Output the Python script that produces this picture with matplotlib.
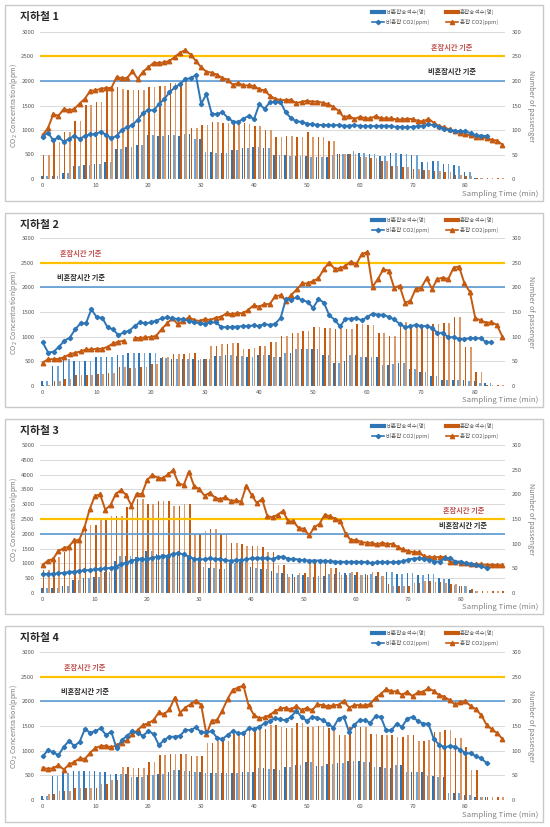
import matplotlib
matplotlib.use('Agg')
import matplotlib.pyplot as plt
import numpy as np
from matplotlib.patches import Rectangle
from matplotlib.lines import Line2D

plt.rcParams['font.family'] = ['Noto Sans CJK KR', 'DejaVu Sans']

# ---------------- DATA ----------------
titles = ['지하철 1', '지하철 2', '지하철 3', '지하철 4']
legend_labels = ['비혼잡승객수(명)', '혼잡승객수(명)', '비혼잡 CO2(ppm)', '혼잡 CO2(ppm)']
ref_labels = ['혼잡시간 기준', '비혼잡시간 기준']
ref_values = [2500, 2000]
left_ymax = [3000, 3000, 5000, 3000]
right_ticks = [0, 50, 100, 150, 200, 250, 300]
x_ticks = [0, 10, 20, 30, 40, 50, 60, 70, 80]
n_times = [88, 86, 89, 88]
nan = np.nan

# Subway 1
s1_busy_co2 = [900, 1036, 1320, 1290, 1430, 1400, 1430, 1540, 1640, 1800,
               1810, 1840, 1860, 1855, 2080, 2060, 2060, 2200, 2040, 2190,
               2280, 2370, 2370, 2380, 2410, 2490, 2580, 2630, 2540, 2410,
               2280, 2190, 2170, 2130, 2060, 2030, 1920, 1960, 1910, 1910,
               1900, 1830, 1810, 1700, 1640, 1610, 1610, 1616, 1548, 1575,
               1596, 1580, 1580, 1555, 1528, 1473, 1392, 1256, 1290, 1222,
               1270, 1243, 1236, 1283, 1243, 1236, 1236, 1215, 1215, 1229,
               1222, 1188, 1175, 1229, 1150, 1080, 1052, 1012, 970, 944,
               916, 890, 862, 849, 835, 800, 785, 700]
s1_quiet_co2 = [866, 948, 790, 852, 763, 818, 880, 818, 880, 913,
                913, 968, 900, 832, 880, 1002, 1057, 1104, 1207, 1343,
                1411, 1398, 1527, 1630, 1766, 1868, 1936, 2039, 2059, 2120,
                1534, 1732, 1330, 1323, 1364, 1254, 1173, 1166, 1227, 1289,
                1220, 1527, 1432, 1568, 1575, 1575, 1358, 1243, 1175, 1168,
                1127, 1115, 1108, 1100, 1100, 1100, 1100, 1086, 1086, 1100,
                1086, 1080, 1080, 1080, 1086, 1086, 1080, 1059, 1066, 1052,
                1066, 1080, 1080, 1113, 1100, 1059, 1018, 998, 985, 971,
                978, 930, 890, 883, 876]
s1_quiet_pax = [6, 6, 7, 7, 12, 12, 27, 27, 29, 29,
                31, 31, 35, 35, 62, 62, 66, 66, 70, 70,
                90, 90, 88, 88, 89, 89, 87, 91, 91, 81,
                81, 56, 56, 54, 54, 54, 59, 59, 64, 64,
                65, 65, 64, 64, 50, 49, 49, 46, 46, 46,
                46, 44, 44, 44, 44, 49, 51, 51, 52, 58,
                54, 54, 52, 52, 46, 46, 53, 53, 51, 51,
                49, 49, 35, 35, 37, 37, 31, 31, 28, 27,
                14, 14, 3, 3, 0, 0, 0, 0]
s1_busy_pax = [48, 48, 80, 76, 95, 95, 119, 119, 151, 151,
               157, 157, 183, 183, 187, 183, 182, 182, 181, 181,
               188, 188, 190, 190, 196, 196, 198, 198, 104, 104,
               110, 110, 116, 116, 115, 115, 115, 115, 115, 113,
               109, 109, 99, 99, 86, 86, 88, 88, 86, 86,
               96, 85, 85, 85, 78, 78, 51, 51, 52, 52,
               44, 44, 42, 42, 37, 37, 27, 27, 24, 24,
               20, 20, 18, 18, 17, 17, 14, 14, 9, 9,
               7, 7, 3, 3, 3, 3, 3, 3]

# Subway 2
s2_busy_co2 = [475, 543, 543, 550, 584, 645, 672, 700, 740, 740,
               754, 754, 794, 862, 896, 917, nan, 964, 978, 985,
               991, 1018, 1154, 1270, 1372, 1250, 1317, 1392, 1338, 1317,
               1358, 1338, 1385, 1405, 1473, 1453, 1480, 1473, 1541, 1636,
               1609, 1657, 1663, 1820, 1840, 1725, 1848, 1957, 2080, 2080,
               2128, 2182, 2373, 2503, 2373, 2387, 2435, 2523, 2469, 2673,
               2714, 2012, 2169, 2366, 2339, 1991, 2032, 1691, 1725, 1971,
               1991, 2182, 1971, 2169, 2196, 2169, 2400, 2421, 2080, 1909,
               1377, 1330, 1282, 1290, 1241, 1003]
s2_quiet_co2 = [883, 679, 693, 794, 917, 978, 1148, 1270, 1270, 1555,
                1392, 1385, 1188, 1148, 1032, 1086, 1120, 1215, 1290, 1270,
                1290, 1324, 1372, 1392, 1372, 1358, 1351, 1317, 1303, 1270,
                1256, 1290, 1290, 1202, 1188, 1202, 1202, 1215, 1215, 1229,
                1215, 1256, 1236, 1262, 1378, 1773, 1753, 1794, 1739, 1705,
                1582, 1760, 1691, 1432, 1343, 1207, 1364, 1364, 1378, 1330,
                1398, 1466, 1446, 1446, 1398, 1350, 1262, 1194, 1207, 1241,
                1214, 1214, 1180, 1078, 1078, 989, 989, 955, 955, 968,
                968, 968, 887, 887]
s2_quiet_pax = [10, 10, 40, 40, 54, 54, 51, 51, 50, 50,
                59, 59, 59, 59, 62, 62, 66, 66, 66, 67,
                67, 67, 57, 57, 54, 54, 54, 54, 54, 52,
                54, 54, 60, 60, 62, 62, 61, 61, 59, 59,
                62, 62, 63, 59, 59, 67, 67, 75, 75, 76,
                76, 76, 63, 63, 46, 46, 51, 63, 63, 59,
                59, 58, 58, 43, 43, 44, 46, 46, 34, 34,
                29, 29, 20, 20, 12, 12, 12, 12, 12, 10,
                10, 7, 7, 7, 0, 0]
s2_busy_pax = [3, 3, 10, 10, 15, 15, 22, 22, 22, 22,
               25, 25, 26, 26, 39, 39, 37, 37, 39, 39,
               44, 44, 59, 59, 64, 64, 64, 66, 66, 54,
               54, 81, 81, 85, 85, 88, 88, 75, 75, 77,
               81, 81, 89, 89, 102, 102, 107, 107, 111, 111,
               119, 119, 118, 118, 116, 116, 116, 116, 125, 125,
               123, 123, 108, 108, 102, 102, 129, 129, 121, 121,
               123, 123, 125, 125, 128, 128, 140, 140, 80, 80,
               29, 29, 3, 3, 3, 3]

# Subway 3
s3_busy_co2 = [946, 1092, 1149, 1419, 1509, 1565, 1779, 1790, 2207, 2826,
               3277, 3333, 2815, 2973, 3344, 3479, 3310, 2950, 3355, 3344,
               3817, 3986, 3896, 3873, 4009, 4144, 3704, 3648, 4099, 3614,
               3502, 3288, 3389, 3220, 3164, 3243, 3108, 3130, 3085, 3626,
               3310, 3040, 3175, 2601, 2556, 2647, 2771, 2420, 2420, 2194,
               2172, 1945, 2217, 2341, 2647, 2590, 2511, 2420, 2002, 1776,
               1798, 1719, 1697, 1697, 1640, 1697, 1651, 1663, 1550, 1470,
               1414, 1380, 1380, 1244, 1210, 1210, 1215, 1220, 1041, 1041,
               1007, 1007, 984, 975, 965, 950, 950, 945, 939]
s3_quiet_co2 = [642, 642, 653, 664, 676, 709, 721, 743, 766, 777,
                800, 811, 833, 845, 890, 980, 1025, 1092, 1137, 1137,
                1149, 1194, 1227, 1239, 1261, 1329, 1340, 1306, 1227, 1149,
                1137, 1137, 1171, 1149, 1149, 1103, 1092, 1103, 1115, 1137,
                1171, 1171, 1171, 1171, 1149, 1210, 1233, 1154, 1154, 1131,
                1108, 1097, 1097, 1097, 1086, 1075, 1063, 1052, 1052, 1052,
                1052, 1052, 1041, 1007, 1041, 1041, 1041, 1041, 1052, 1075,
                1131, 1165, 1176, 1154, 1131, 1063, 1063, 1176, 1188, 1063,
                1063, 1007, 984, 950, 905, 837]
s3_quiet_pax = [11, 11, 11, 11, 15, 15, 27, 27, 30, 30,
                33, 33, 42, 42, 64, 75, 75, 75, 72, 72,
                85, 85, 80, 80, 77, 77, 77, 77, 70, 64,
                64, 53, 51, 51, 48, 48, 60, 60, 62, 62,
                53, 51, 49, 49, 45, 41, 41, 39, 39, 37,
                37, 32, 32, 34, 34, 39, 39, 43, 40, 40,
                37, 37, 39, 39, 35, 35, 42, 42, 39, 39,
                41, 41, 37, 37, 39, 39, 31, 29, 29, 16,
                15, 15, 7, 5, 0, 0, 0, 0, 0]
s3_busy_pax = [47, 47, 65, 72, 84, 97, 107, 110, 138, 138,
               138, 149, 149, 156, 156, 156, 175, 175, 190, 190,
               180, 180, 186, 186, 186, 176, 176, 180, 180, 120,
               120, 126, 129, 129, 120, 120, 102, 102, 99, 96,
               96, 96, 94, 84, 84, 57, 57, 33, 33, 40,
               40, 64, 64, 66, 66, 50, 50, 37, 37, 42,
               42, 37, 37, 42, 42, 34, 18, 14, 14, 15,
               15, 20, 20, 25, 25, 23, 23, 20, 18, 18,
               14, 14, 8, 5, 5, 4, 4, 4, 4]

# Subway 4
s4_busy_co2 = [652, 631, 645, 706, 618, 720, 774, 842, 835, 957,
               1059, 1093, 1100, 1066, 1113, 1161, 1215, 1330, 1418, 1520,
               1554, 1622, 1778, 1737, 1839, 2077, 1771, 1873, 1941, 2016,
               1927, 1330, 1608, 1622, 1812, 2050, 2233, 2280, 2321, 1907,
               1724, 1656, 1676, 1724, 1805, 1855, 1869, 1835, 1903, 1821,
               1869, 1821, 1937, 1923, 1903, 1916, 1930, 2005, 1875, 1923,
               1923, 1916, 1944, 2073, 2148, 2251, 2203, 2203, 2128, 2196,
               2101, 2182, 2196, 2264, 2210, 2128, 2094, 2026, 1937, 1978,
               2005, 1903, 1841, 1719, 1528, 1432, 1357, 1241]
s4_quiet_co2 = [882, 1011, 964, 909, 1079, 1201, 1093, 1181, 1439, 1364,
                1398, 1452, 1317, 1384, 1045, 1215, 1303, 1398, 1351, 1303,
                1398, 1337, 1113, 1215, 1283, 1283, 1303, 1418, 1418, 1473,
                1371, 1371, 1398, 1262, 1235, 1317, 1398, 1351, 1351, 1452,
                1439, 1486, 1554, 1601, 1656, 1637, 1616, 1684, 1807, 1684,
                1603, 1684, 1671, 1616, 1548, 1466, 1650, 1684, 1378, 1528,
                1616, 1616, 1562, 1698, 1684, 1412, 1412, 1548, 1480, 1650,
                1684, 1603, 1548, 1548, 1241, 1125, 1071, 1091, 1084, 1023,
                948, 948, 887, 846, 750]
s4_quiet_pax = [8, 8, 48, 48, 55, 55, 58, 59, 59, 58,
                58, 56, 56, 52, 52, 52, 52, 47, 47, 47,
                50, 50, 52, 52, 57, 60, 60, 59, 59, 56,
                56, 54, 54, 54, 55, 55, 55, 55, 57, 57,
                57, 64, 64, 62, 62, 61, 66, 66, 70, 70,
                78, 78, 68, 68, 72, 72, 75, 75, 80, 80,
                80, 78, 78, 66, 66, 64, 64, 71, 71, 57,
                57, 56, 56, 49, 49, 46, 46, 14, 14, 14,
                10, 10, 6, 6, 6, 0, 0, 0]
s4_busy_pax = [3, 12, 12, 18, 18, 18, 24, 24, 24, 24,
               24, 32, 32, 40, 40, 67, 67, 65, 65, 65,
               77, 77, 92, 92, 93, 93, 93, 93, 89, 89,
               89, 116, 116, 120, 120, 120, 133, 133, 139, 139,
               140, 144, 144, 152, 152, 148, 145, 145, 157, 157,
               148, 148, 149, 149, 145, 145, 131, 131, 147, 147,
               147, 147, 134, 134, 131, 131, 131, 128, 128, 131,
               131, 119, 119, 121, 138, 138, 141, 141, 125, 125,
               107, 61, 61, 6, 6, 6, 6, 6]

busy_co2 = [s1_busy_co2, s2_busy_co2, s3_busy_co2, s4_busy_co2]
quiet_co2 = [s1_quiet_co2, s2_quiet_co2, s3_quiet_co2, s4_quiet_co2]
quiet_pax = [s1_quiet_pax, s2_quiet_pax, s3_quiet_pax, s4_quiet_pax]
busy_pax = [s1_busy_pax, s2_busy_pax, s3_busy_pax, s4_busy_pax]

# ---------------- LAYOUT / STYLE ----------------
W, H = 550, 827
BLUE = '#2E75B6'
BLUE_L = '#6BA5DA'
ORANGE = '#C55A11'
ORANGE_L = '#DB9A68'
YELLOW = '#FFC000'
REFBLUE = '#5B9BD5'
GRID = '#D9D9D9'
TXT = '#595959'

# (box top, box bottom, axes top, axes bottom) in pixels
panels_px = [(5, 201, 32, 179), (213, 407, 238, 386), (419, 614, 445, 593), (626, 822, 652, 800)]
ref_text_x = [77.5, 7.0, 80.5, 8.0]
ref_text_dy = [120, 120, 160, 120]
leg_col_px = [372, 446]

fig = plt.figure(figsize=(W / 100, H / 100), dpi=100)
fig.patch.set_facecolor('white')


def fx(p):
    return p / W


def fy(p):
    return 1 - p / H


for i in range(4):
    bt, bb, at, ab = panels_px[i]
    fig.add_artist(Rectangle((fx(5), fy(bb)), fx(538), (bb - bt) / H,
                             transform=fig.transFigure, fill=False,
                             edgecolor='#C9C9C9', lw=1.0, zorder=0))
    ax = fig.add_axes([fx(40), fy(ab), fx(465), (ab - at) / H])
    ax2 = ax.twinx()
    ax.set_zorder(3)
    ax.patch.set_visible(False)
    ax2.set_zorder(2)

    n = n_times[i]
    ymax = left_ymax[i]
    x = np.arange(n)

    for v in np.arange(0, ymax + 1, 500):
        ax2.axhline(v * 300 / ymax, color=GRID, lw=0.7, zorder=0)

    qc = [BLUE if k % 2 == 0 else BLUE_L for k in range(n)]
    bc = [ORANGE if k % 2 == 0 else ORANGE_L for k in range(n)]
    ax2.bar(x - 0.17, quiet_pax[i], width=0.3, color=qc, zorder=2, linewidth=0)
    ax2.bar(x + 0.17, busy_pax[i], width=0.3, color=bc, zorder=2, linewidth=0)

    ax.axhline(ref_values[0], color=YELLOW, lw=1.6, zorder=3)
    ax.axhline(ref_values[1], color=REFBLUE, lw=1.2, zorder=3)

    xq = np.arange(len(quiet_co2[i]))
    xb = np.arange(len(busy_co2[i]))
    ax.plot(xq, quiet_co2[i], color=BLUE, lw=1.4, marker='D', ms=2.2, zorder=5)
    ax.plot(xb, busy_co2[i], color=ORANGE, lw=1.4, marker='^', ms=3.2, zorder=4)

    ax.set_xlim(-0.5, n - 0.5)
    ax.set_ylim(0, ymax)
    ax2.set_ylim(0, 300)
    ax.set_yticks(np.arange(0, ymax + 1, 500))
    ax2.set_yticks(right_ticks)
    ax.set_xticks(x_ticks)
    for a in (ax, ax2):
        for s in a.spines.values():
            s.set_visible(False)
        a.tick_params(length=0, labelsize=4.3, colors=TXT)
    ax.tick_params(axis='y', pad=4)
    ax2.tick_params(axis='y', pad=5)
    ax.tick_params(axis='x', pad=3)

    tx = ref_text_x[i]
    ax.text(tx, ref_values[0] + ref_text_dy[i], ref_labels[0], color='#C0504D',
            fontsize=5.2, fontweight='bold', ha='center', va='bottom', zorder=6)
    ax.text(tx, ref_values[1] + ref_text_dy[i], ref_labels[1], color='#262626',
            fontsize=5.2, fontweight='bold', ha='center', va='bottom', zorder=6)

    fig.text(fx(20), fy(bt + 12), titles[i], fontsize=7.8, fontweight='bold',
             color='#262626', va='center', ha='left')
    yc = fy((at + ab) / 2)
    fig.text(fx(14), yc, 'CO$_2$ Concentration(ppm)', rotation=90, fontsize=5.2,
             color='#808080', ha='center', va='center')
    fig.text(fx(531), yc, 'Number of passenger', rotation=270, fontsize=5.2,
             color='#808080', ha='center', va='center')
    fig.text(fx(538), fy(bb - 7), 'Sampling Time (min)', fontsize=5.6,
             color='#808080', ha='right', va='center')

    # legend: row 1 = bar series, row 2 = CO2 lines
    y_row = [fy(bt + 7), fy(bt + 17)]
    for k, lab in enumerate(legend_labels):
        col = BLUE if k % 2 == 0 else ORANGE
        lx = fx(leg_col_px[k % 2])
        yy = y_row[k // 2]
        if k < 2:
            fig.add_artist(Line2D([lx, lx + fx(12)], [yy, yy], color=col, lw=3.0,
                                  transform=fig.transFigure))
        else:
            fig.add_artist(Line2D([lx, lx + fx(12)], [yy, yy], color=col, lw=1.2,
                                  transform=fig.transFigure))
            fig.add_artist(Line2D([lx + fx(6)], [yy], color=col,
                                  marker='D' if k % 2 == 0 else '^',
                                  ms=2.2 if k % 2 == 0 else 3.0, lw=0,
                                  transform=fig.transFigure))
        fig.text(lx + fx(14), yy, lab, fontsize=4.0, color=TXT, ha='left', va='center')

fig.savefig('out.png', dpi=100, facecolor='white')
